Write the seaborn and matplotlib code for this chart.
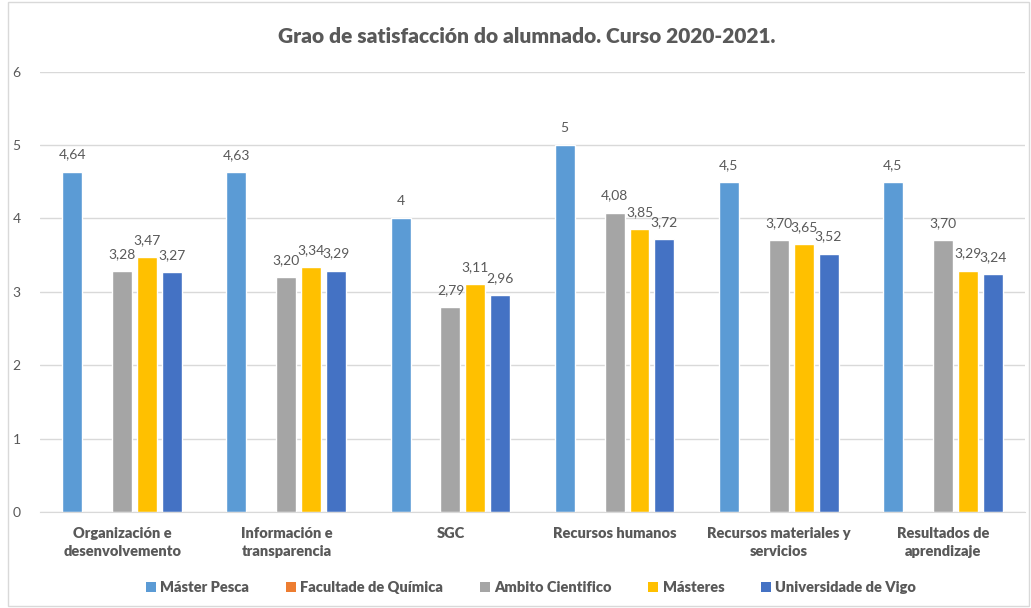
import numpy as np
import pandas as pd
import seaborn as sns
import matplotlib.pyplot as plt
from matplotlib.patches import Patch, Rectangle

categories = ['Organización e\ndesenvolvemento', 'Información e\ntransparencia', 'SGC',
              'Recursos humanos', 'Recursos materiales y\nservicios', 'Resultados de\naprendizaje']
series = ['Máster Pesca', 'Facultade de Química', 'Ambito Cientifico', 'Másteres', 'Universidade de Vigo']
master_pesca = [4.64, 4.63, 4, 5, 4.5, 4.5]
facultade = [np.nan] * 6
ambito = [3.28, 3.20, 2.79, 4.08, 3.70, 3.70]
masteres = [3.47, 3.34, 3.11, 3.85, 3.65, 3.29]
uvigo = [3.27, 3.29, 2.96, 3.72, 3.52, 3.24]
colors = ['#5B9BD5', '#ED7D31', '#A5A5A5', '#FFC000', '#4472C4']

rows = []
for name, vals in zip(series, [master_pesca, facultade, ambito, masteres, uvigo]):
    for cat, v in zip(categories, vals):
        rows.append({'Categoria': cat, 'Serie': name, 'Valor': v})
df = pd.DataFrame(rows)

sns.set_style('white')
plt.rcParams['font.family'] = ['Lato', 'DejaVu Sans']
txt = '#595959'

fig = plt.figure(figsize=(10.31, 6.08), dpi=100)
ax = fig.add_axes([0.039, 0.158, 0.955, 0.724])
palette = dict(zip(series, colors))
sns.barplot(data=df, x='Categoria', y='Valor', hue='Serie', hue_order=series,
            order=categories, palette=palette, width=0.76, gap=0.2,
            saturation=1, legend=False, ax=ax)

ax.set_ylim(0, 6)
ax.set_yticks(range(7))
ax.yaxis.grid(True, color='#D9D9D9', linewidth=1)
ax.set_axisbelow(True)
for s in ['top', 'right', 'left']:
    ax.spines[s].set_visible(False)
ax.spines['bottom'].set_color('#D9D9D9')
ax.set_xlabel('')
ax.set_ylabel('')
ax.tick_params(axis='both', length=0, colors=txt)
ax.tick_params(axis='y', labelsize=10, pad=14)
ax.tick_params(axis='x', pad=11)
for lab in ax.get_xticklabels():
    lab.set_fontsize(10.5)
    lab.set_fontweight('heavy')
    lab.set_color(txt)
    lab.set_linespacing(1.45)

def fmt(v, general):
    if np.isnan(v):
        return ''
    s = '{:g}'.format(v) if general else '{:.2f}'.format(v)
    return s.replace('.', ',')

for i, cont in enumerate(ax.containers):
    vals = [r.get_height() for r in cont]
    labels = [fmt(v, i == 0) for v in vals]
    ax.bar_label(cont, labels=labels, padding=8, fontsize=10, color=txt)

fig.suptitle('Grao de satisfacción do alumnado. Curso 2020-2021.', x=0.511, y=0.955,
             fontsize=15, fontweight='heavy', color=txt)

handles = [Patch(facecolor=c, edgecolor='none') for c in colors]
leg = fig.legend(handles, series, loc='center', bbox_to_anchor=(0.515, 0.034), ncol=5,
                 frameon=False, handlelength=0.7, handleheight=0.7, handletextpad=0.3,
                 columnspacing=2.5, prop={'weight': 'heavy', 'size': 10.5})
for t in leg.get_texts():
    t.set_color(txt)

fig.patches.append(Rectangle((0.008, 0.004), 0.99, 0.993, transform=fig.transFigure,
                             fill=False, edgecolor='#D9D9D9', linewidth=1))

fig.savefig('out.png', dpi=100)
